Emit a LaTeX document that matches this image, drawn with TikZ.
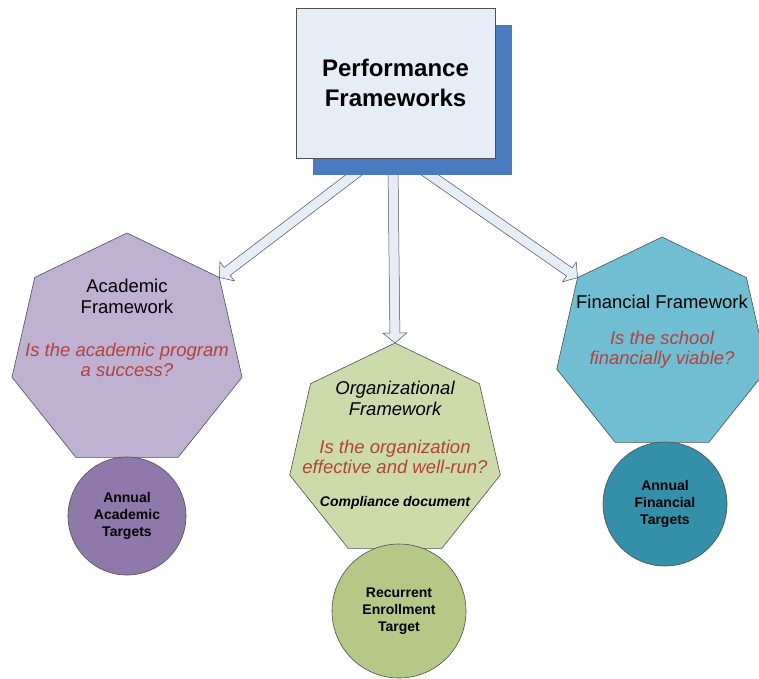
\documentclass[tikz,border=0pt]{standalone}
\usepackage{fontspec}
\setmainfont{Liberation Sans}
\usetikzlibrary{ % tikz packages
    shapes.geometric,positioning,
    calc,shadows
}
\definecolor{lineGray}{RGB}{80,80,80}
\definecolor{boxFill}{RGB}{231,237,247}
\definecolor{boxShadow}{RGB}{74,122,192}
\definecolor{askRed}{RGB}{178,66,60}
\definecolor{acadFill}{RGB}{191,177,209}
\definecolor{acadDark}{RGB}{143,120,170}
\definecolor{orgFill}{RGB}{205,219,170}
\definecolor{orgDark}{RGB}{181,200,134}
\definecolor{finFill}{RGB}{112,190,210}
\definecolor{finDark}{RGB}{52,144,168}
\tikzset{
    hept/.style={regular polygon,regular polygon sides=7,
        draw=lineGray,line width=0.6pt,inner sep=0pt,outer sep=0pt},
    target/.style={circle,draw=lineGray,line width=0.6pt,
        inner sep=0pt,outer sep=0pt},
    frameTitle/.style={align=center,font=\fontsize{18.5}{21}\selectfont},
    question/.style={align=center,text=askRed,
        font=\fontsize{18.5}{20}\selectfont\itshape},
    targetText/.style={align=center,font=\fontsize{14}{17}\selectfont\bfseries},
    hollowArrow/.style={draw=lineGray,line width=0.5pt,fill=boxFill,line join=miter}
}
% block arrow from #1 to #2
\newcommand{\blockArrow}[2]{%
    \coordinate (ba s) at (#1);
    \coordinate (ba e) at (#2);
    \coordinate (ba h) at ($(ba e)!10pt!(ba s)$);
    \draw[hollowArrow]
        ($(ba s)!5pt!90:(ba e)$) -- ($(ba h)!5pt!-90:(ba s)$)
        -- ($(ba h)!12pt!-90:(ba s)$) -- (ba e)
        -- ($(ba h)!12pt!90:(ba s)$) -- ($(ba h)!5pt!90:(ba s)$)
        -- ($(ba s)!5pt!-90:(ba e)$) -- cycle;
}

\begin{document}
\begin{tikzpicture}[x=1pt,y=-1pt,on grid]
    \useasboundingbox (0,0) rectangle (759,678);

    \node[hept,minimum size=236pt,fill=acadFill] (acad) at (127,351) {};
    \node[frameTitle] (acadTitle) [above=55pt of acad] {Academic\\Framework};
    \node[question] (acadAsk) [below=9pt of acad] {Is the academic program\\a success?};
    \node[target,minimum size=118pt,fill=acadDark] (acadTarget) [below=165pt of acad] {};
    \node[targetText] at (acadTarget) {Annual\\Academic\\Targets};

    \node[hept,minimum size=216pt,fill=orgFill] (org) at (395,451) {};
    \node[frameTitle,font=\fontsize{18.5}{21}\selectfont\itshape] (orgTitle) [above=53pt of org] {Organizational\\Framework};
    \node[question] (orgAsk) [below=6pt of org] {Is the organization\\effective and well-run?};
    \node[targetText,font=\fontsize{14}{17}\selectfont\bfseries\itshape] (orgDoc) [below=52pt of org] {Compliance document};
    \node[target,minimum size=134pt,fill=orgDark] (orgTarget) [below=160pt of org,xshift=4pt] {};
    \node[targetText] at (orgTarget) {Recurrent\\Enrollment\\Target};

    \node[hept,minimum size=216pt,fill=finFill] (fin) at (662,345) {};
    \node[frameTitle] (finTitle) [above=43pt of fin] {Financial Framework};
    \node[question] (finAsk) [below=5pt of fin] {Is the school\\financially viable?};
    \node[target,minimum size=124pt,fill=finDark] (finTarget) [below=159pt of fin,xshift=3pt] {};
    \node[targetText] at (finTarget) {Annual\\Financial\\Targets};

    % tails sit under the box shadow
    \coordinate (acadOut) at (363,168);
    \coordinate (orgOut) at (393,168);
    \coordinate (finOut) at (420,168);
    \blockArrow{acadOut}{acad.corner 7}
    \blockArrow{orgOut}{org.corner 1}
    \blockArrow{finOut}{fin.corner 2}

    \node[draw=lineGray,line width=0.6pt,fill=boxFill,
        minimum width=199pt,minimum height=150pt,align=center,
        font=\fontsize{24}{30}\selectfont\bfseries,
        drop shadow={shadow xshift=16.5pt,shadow yshift=-16.5pt,
            fill=boxShadow,draw=none,opacity=1}]
        (frames) at (395.5,83) {Performance\\Frameworks};
\end{tikzpicture}
\end{document}
